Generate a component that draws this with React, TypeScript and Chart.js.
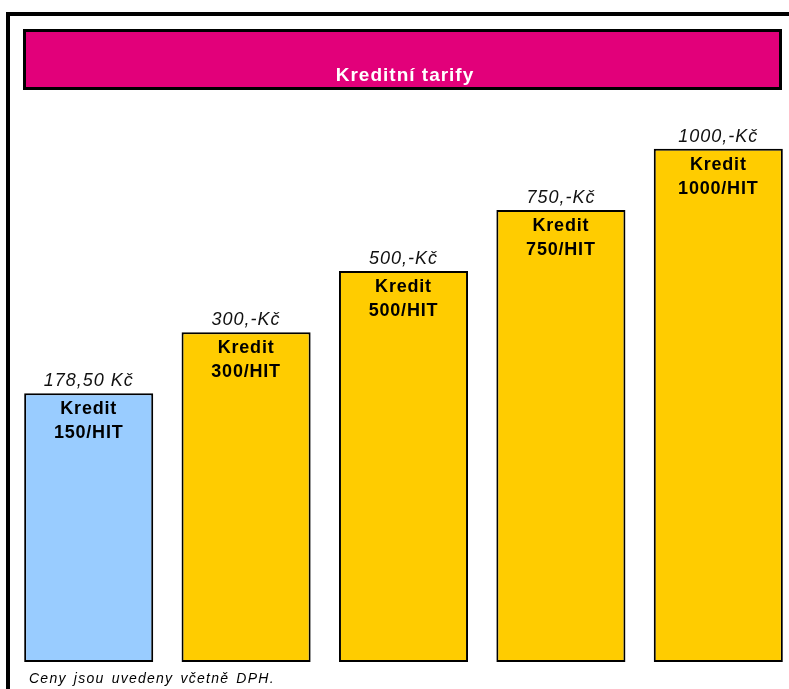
import React, { useEffect, useRef } from "react";
import { Chart, registerables } from "chart.js";

Chart.register(...registerables);

const categories = ["Kredit 150/HIT", "Kredit 300/HIT", "Kredit 500/HIT", "Kredit 750/HIT", "Kredit 1000/HIT"];
const values = [4.4, 5.4, 6.4, 7.4, 8.4];
const priceLabels = ["178,50 Kč", "300,-Kč", "500,-Kč", "750,-Kč", "1000,-Kč"];
const innerLine1 = ["Kredit", "Kredit", "Kredit", "Kredit", "Kredit"];
const innerLine2 = ["150/HIT", "300/HIT", "500/HIT", "750/HIT", "1000/HIT"];
const barColors = ["#99CCFF", "#FFCC00", "#FFCC00", "#FFCC00", "#FFCC00"];
const titleText = "Kreditní tarify";
const footnote = "Ceny jsou uvedeny včetně DPH.";

const FONT = '"Liberation Sans", Arial, sans-serif';

const decorPlugin = {
  id: "decor",
  beforeDraw(chart: any) {
    const ctx = chart.ctx;
    ctx.save();
    ctx.fillStyle = "#ffffff";
    ctx.fillRect(0, 0, chart.width, chart.height);
    // outer frame
    ctx.strokeStyle = "#000";
    ctx.lineWidth = 4;
    ctx.strokeRect(8, 14, 1000, 1000);
    // title bar
    ctx.fillStyle = "#E2007A";
    ctx.fillRect(23, 29, 759, 61);
    ctx.lineWidth = 3;
    ctx.strokeRect(24.5, 30.5, 756, 58);
    ctx.fillStyle = "#fff";
    ctx.font = "bold 19px " + FONT;
    (ctx as any).letterSpacing = "1px";
    ctx.textAlign = "center";
    ctx.textBaseline = "alphabetic";
    ctx.fillText(titleText, 405, 81);
    // footnote
    ctx.fillStyle = "#000";
    ctx.font = "italic 14px " + FONT;
    (ctx as any).letterSpacing = "1.25px";
    (ctx as any).wordSpacing = "2px";
    ctx.textAlign = "left";
    ctx.fillText(footnote, 29, 683);
    ctx.restore();
  },
  afterDatasetsDraw(chart: any) {
    const ctx = chart.ctx;
    const meta = chart.getDatasetMeta(0);
    ctx.save();
    ctx.fillStyle = "#000";
    ctx.textAlign = "center";
    ctx.textBaseline = "alphabetic";
    meta.data.forEach((bar: any, i: number) => {
      const x = bar.x;
      const top = bar.y;
      ctx.font = "italic 18px " + FONT;
      (ctx as any).letterSpacing = "1px";
      ctx.fillStyle = "#111";
      ctx.fillText(priceLabels[i], x, top - 7);
      ctx.fillStyle = "#000";
      ctx.font = "bold 18px " + FONT;
      (ctx as any).letterSpacing = "0.8px";
      ctx.fillText(innerLine1[i], x, top + 21);
      ctx.fillText(innerLine2[i], x, top + 45);
    });
    ctx.restore();
  },
};

export default function App() {
  const ref = useRef<HTMLCanvasElement>(null);
  useEffect(() => {
    document.body.style.margin = "0";
    document.body.style.overflow = "hidden";
    if (!ref.current) return;
    const chart = new Chart(ref.current, {
      type: "bar",
      data: {
        labels: categories,
        datasets: [
          {
            data: values,
            backgroundColor: barColors,
            borderColor: "#000",
            borderWidth: 2,
            borderSkipped: false,
            barPercentage: 0.82,
            categoryPercentage: 1,
          },
        ],
      },
      options: {
        responsive: false,
        animation: false,
        devicePixelRatio: 1,
        layout: { padding: { left: 10, right: 3, top: 100, bottom: 27 } },
        plugins: {
          legend: { display: false },
          title: { display: false },
          tooltip: { enabled: false },
        },
        scales: {
          x: { display: false },
          y: { display: false, min: 0, max: 9.2 },
        },
      },
      plugins: [decorPlugin],
    });
    return () => chart.destroy();
  }, []);
  return (
    <div style={{ width: 789, height: 689, overflow: "hidden", position: "relative" }}>
      <canvas ref={ref} width={800} height={689} style={{ display: "block" }} />
    </div>
  );
}
